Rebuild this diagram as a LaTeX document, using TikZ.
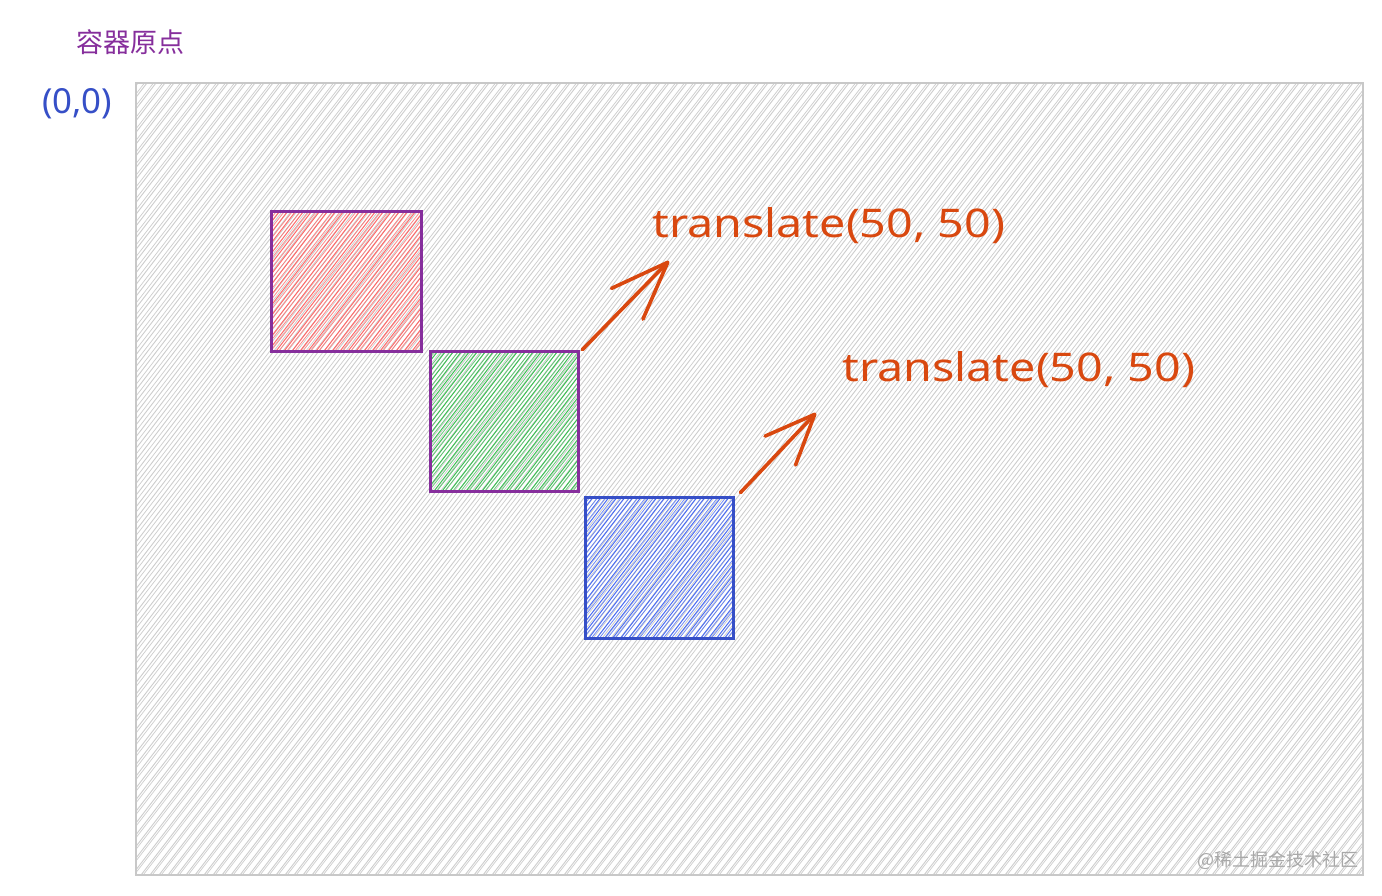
\documentclass[tikz,border=0pt]{standalone}
\usepackage{graphicx}
\usepackage{fontspec}
\setmainfont{Noto Sans}
\newfontfamily\cjk{Noto Sans CJK SC}
\usetikzlibrary{arrows.meta}
\definecolor{grape}{HTML}{862E9C}
\definecolor{redh}{HTML}{FF6B6B}
\definecolor{greenh}{HTML}{40C057}
\definecolor{bluestroke}{HTML}{364FC7}
\definecolor{blueh}{HTML}{4C6EF5}
\definecolor{orangec}{HTML}{D9480F}
\definecolor{borderg}{HTML}{C8C8C8}
\definecolor{hatchg}{HTML}{CDCDCD}
\definecolor{markg}{HTML}{A8A8A8}
\tikzset{
  hatchsmall/.style={path picture={
    \foreach \k in {-260,-252,...,60}{
      \draw[#1,line width=1pt] ([xshift=\k pt,yshift=-130pt]path picture bounding box.center) -- ++(200pt,260pt);
      \draw[#1,line width=0.8pt,opacity=0.8] ([xshift={(\k+1.8)*1pt},yshift=-130pt]path picture bounding box.center) -- ++(204pt,260pt);
    }}},
  hatchbig/.style={path picture={
    \foreach \k in {-1280,-1271,...,590}{
      \draw[hatchg,line width=0.9pt] ([xshift=\k pt,yshift=-450pt]path picture bounding box.center) -- ++(692pt,900pt);
      \draw[hatchg,line width=0.7pt] ([xshift={(\k+1.8)*1pt},yshift=-450pt]path picture bounding box.center) -- ++(697pt,900pt);
    }}},
  sq/.style={rectangle, inner sep=0pt, line width=3pt},
  arrowline/.style={orangec, line width=3.6pt, line cap=round, line join=round},
  lbl/.style={anchor=base west, inner sep=0pt, text=orangec},
}
\begin{document}
\begin{tikzpicture}[x=1pt,y=-1pt]
\useasboundingbox (0,0) rectangle (1382,895);
\fill[white] (0,0) rectangle (1382,895);

% container
\node[rectangle, inner sep=0pt, draw=borderg, line width=2.4pt, hatchbig,
      minimum width=1227pt, minimum height=792pt] (container) at (749.5,479) {};

% squares
\node[sq, draw=grape, hatchsmall=redh, minimum width=150pt, minimum height=140pt] (red) at (346,281) {};
\node[sq, draw=grape, hatchsmall=greenh, minimum width=148pt, minimum height=140pt] (green) at (504,421) {};
\node[sq, draw=bluestroke, hatchsmall=blueh, minimum width=148pt, minimum height=141pt] (blue) at (659,567.5) {};

% arrows
\coordinate (tip1) at (669,261);
\coordinate (tip2) at (816,413);
\draw[arrowline, -{Straight Barb[length=58pt,width=44pt,round]}] ([xshift=3pt]green.north east) -- (tip1);
\draw[arrowline, -{Straight Barb[length=50pt,width=42pt,round]}] ([xshift=6pt,yshift=3pt]blue.north east) -- (tip2);

% labels
\node[lbl] (t1) at (652,237) {\resizebox{353pt}{30pt}{translate(50, 50)}};
\node[lbl] (t2) at (842,381) {\resizebox{353pt}{30pt}{translate(50, 50)}};

\node[anchor=center, inner sep=0pt, text=grape] (origin) at (130.5,42) {\cjk\fontsize{27}{30}\selectfont 容器原点};
\node[anchor=base west, inner sep=0pt, text=bluestroke] (zero) at (42,113) {\resizebox{70pt}{25pt}{(0,0)}};

\node[anchor=center, inner sep=0pt, text=markg] (wm) at (1278,860) {\cjk\fontsize{18}{20}\selectfont @稀土掘金技术社区};
\end{tikzpicture}
\end{document}
